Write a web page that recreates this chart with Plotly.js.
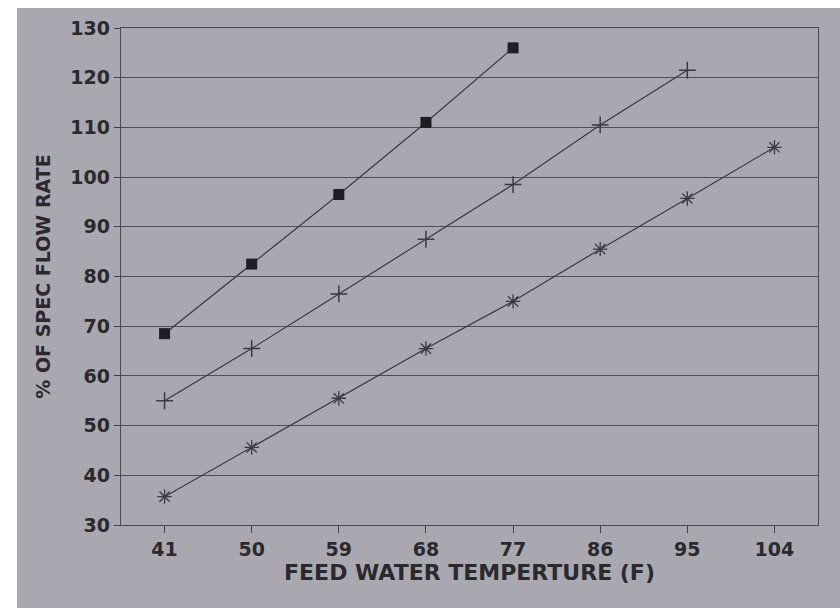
<!DOCTYPE html>
<html><head><meta charset="utf-8">
<script src="https://cdn.plot.ly/plotly-3.0.1.min.js"></script>
<style>body{margin:0;background:#fff}#c{width:840px;height:608px}</style>
</head><body><div id="c"></div>
<script>
const temps = ['41','50','59','68','77','86','95','104'];
const seriesSquare = [68.5, 82.5, 96.5, 111, 126];
const seriesPlus = [55, 65.5, 76.5, 87.5, 98.5, 110.5, 121.5];
const seriesStar = [35.7, 45.6, 55.5, 65.5, 75, 85.5, 95.7, 106];
const yTicks = [30,40,50,60,70,80,90,100,110,120,130];

const lineCol = '#3a3a40';
const fam = 'DejaVu Sans, Verdana, sans-serif';
const traces = [
  {x: temps.slice(0, seriesSquare.length), y: seriesSquare, mode:'lines+markers', type:'scatter',
   line:{color:lineCol, width:1.2}, marker:{symbol:'square', size:11, color:'#1e1e24'}},
  {x: temps.slice(0, seriesPlus.length), y: seriesPlus, mode:'lines+markers', type:'scatter',
   line:{color:lineCol, width:1.2}, marker:{symbol:'cross-thin-open', size:12, line:{color:'#1e1e24', width:1.5}}},
  {x: temps.slice(0, seriesStar.length), y: seriesStar, mode:'lines+markers', type:'scatter',
   line:{color:lineCol, width:1.2}, marker:{symbol:'asterisk-open', size:12, line:{color:'#1e1e24', width:1.3}}}
];
const layout = {
  width:840, height:608,
  margin:{l:121, r:22, t:28, b:83},
  paper_bgcolor:'#ffffff', plot_bgcolor:'#b1afb6',
  showlegend:false,
  font:{family:fam, color:'#2a2a2e'},
  shapes:[{type:'rect', xref:'paper', yref:'paper', layer:'below',
    x0:(17-121)/697, x1:(840-121)/697, y0:(525-608)/497, y1:(525-8)/497,
    fillcolor:'#a9a7af', line:{width:0}}],
  xaxis:{type:'category', range:[-0.5, 7.5], tickvals:temps, ticktext:temps,
    ticks:'outside', ticklen:7, tickcolor:'#444', showgrid:false, zeroline:false,
    showline:true, mirror:true, linecolor:'#4a4a50', linewidth:1.2,
    tickfont:{size:19, family:fam, weight:'bold', color:'#2a2a2e'},
    title:{text:'FEED WATER TEMPERTURE (F)', font:{size:22, family:fam, weight:'bold', color:'#2a2a2e'}, standoff:4}},
  yaxis:{range:[30,130], tickvals:yTicks, ticks:'outside', ticklen:6, tickcolor:'#444',
    showgrid:true, gridcolor:'#505058', gridwidth:1, zeroline:false,
    showline:true, mirror:true, linecolor:'#4a4a50', linewidth:1.2,
    tickfont:{size:19, family:fam, weight:'bold', color:'#2a2a2e'},
    title:{text:'% OF SPEC FLOW RATE', font:{size:19, family:fam, weight:'bold', color:'#2a2a2e'}, standoff:14}}
};
Plotly.newPlot('c', traces, layout, {displayModeBar:false, staticPlot:true});
</script></body></html>
